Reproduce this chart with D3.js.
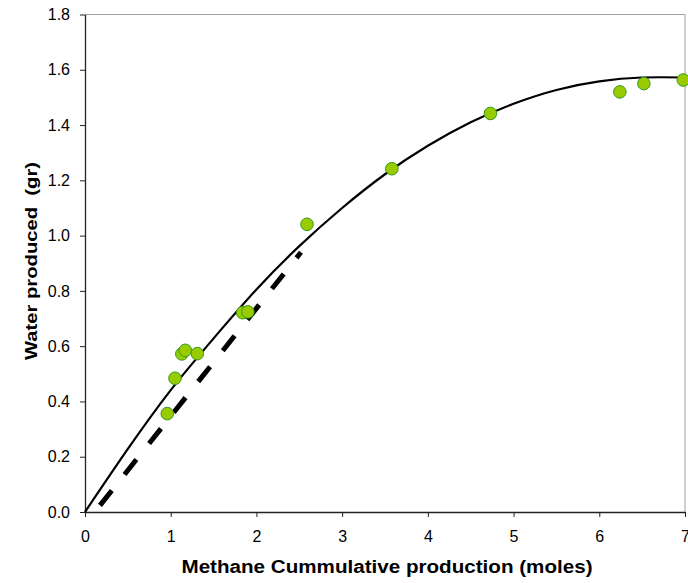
<!DOCTYPE html>
<html>
<head>
<meta charset="utf-8">
<script src="https://cdn.jsdelivr.net/npm/d3@7.9.0/dist/d3.min.js"></script>
<style>
  body { margin: 0; background: #fff; }
  svg { display: block; font-family: "Liberation Sans", Arial, sans-serif; }
  .tick text { font-size: 16px; fill: #000; }
</style>
</head>
<body>
<svg id="chart" width="688" height="583"></svg>
<script>
// measured points (methane moles, water gr)
const methane = [0.96, 1.05, 1.13, 1.17, 1.31, 1.84, 1.90, 2.59, 3.58, 4.73, 6.24, 6.52, 6.98];
const water   = [0.356, 0.484, 0.572, 0.585, 0.573, 0.721, 0.724, 1.041, 1.242, 1.442, 1.52, 1.55, 1.563];

// fitted curve
const fitX = [0, 0.5, 1.0, 1.5, 2.0, 2.5, 3.0, 3.5, 4.0, 4.5, 5.0, 5.5, 6.0, 6.5, 7.0];
const fitY = [0, 0.228, 0.441, 0.628, 0.805, 0.962, 1.10, 1.222, 1.325, 1.41, 1.477, 1.527, 1.558, 1.572, 1.572];

// dashed straight line
const dashX = [0.175, 2.52];
const dashY = [0.024, 0.94];

const xTicks = [0, 1, 2, 3, 4, 5, 6, 7];
const yTicks = [0, 0.2, 0.4, 0.6, 0.8, 1.0, 1.2, 1.4, 1.6, 1.8];

const svg = d3.select('#chart');

const x = d3.scaleLinear().domain([0, 7]).range([85, 685]);
const y = d3.scaleLinear().domain([0, 1.8]).range([512, 14.5]);

// top / right frame
svg.append('path')
  .attr('d', `M${x(0)},${y(1.8)}H${x(7)}V${y(0)}`)
  .attr('fill', 'none')
  .attr('stroke', '#a0a0a0')
  .attr('stroke-width', 1);

// axes
const xAxis = svg.append('g')
  .attr('transform', `translate(0,${y(0)})`)
  .call(d3.axisBottom(x).tickValues(xTicks).tickFormat(d3.format('d')).tickSize(5).tickSizeOuter(0).tickPadding(14));

const yAxis = svg.append('g')
  .attr('transform', `translate(${x(0)},0)`)
  .call(d3.axisLeft(y).tickValues(yTicks).tickFormat(d3.format('.1f')).tickSize(5).tickSizeOuter(0).tickPadding(10));

[xAxis, yAxis].forEach((g) => {
  g.attr('font-family', null).attr('font-size', null);
  g.select('.domain').attr('stroke', '#222').attr('stroke-width', 1.3);
  g.selectAll('.tick line').attr('stroke', '#222');
});

// fit curve
const fitData = fitX.map((v, i) => [v, fitY[i]]);
const line = d3.line().x((d) => x(d[0])).y((d) => y(d[1])).curve(d3.curveNatural);

svg.append('path')
  .datum(fitData)
  .attr('d', line)
  .attr('fill', 'none')
  .attr('stroke', '#000')
  .attr('stroke-width', 2.2);

// dashed line
const dashData = dashX.map((v, i) => [v, dashY[i]]);
svg.append('path')
  .datum(dashData)
  .attr('d', d3.line().x((d) => x(d[0])).y((d) => y(d[1])))
  .attr('fill', 'none')
  .attr('stroke', '#000')
  .attr('stroke-width', 5)
  .attr('stroke-dasharray', '19,20.5');

// points
const pts = methane.map((v, i) => ({ m: v, w: water[i] }));
svg.append('g')
  .selectAll('circle')
  .data(pts)
  .join('circle')
  .attr('cx', (d) => x(d.m))
  .attr('cy', (d) => y(d.w))
  .attr('r', 6.3)
  .attr('fill', '#99cc00')
  .attr('stroke', '#339922')
  .attr('stroke-width', 1);

// axis titles
svg.append('text')
  .attr('x', 387)
  .attr('y', 573)
  .attr('text-anchor', 'middle')
  .attr('font-size', 17.5)
  .attr('font-weight', 'bold')
  .attr('textLength', 411)
  .attr('lengthAdjust', 'spacingAndGlyphs')
  .text('Methane Cummulative production (moles)');

svg.append('text')
  .attr('transform', 'translate(36.5,261) rotate(-90)')
  .attr('text-anchor', 'middle')
  .attr('font-size', 16.5)
  .attr('font-weight', 'bold')
  .attr('textLength', 198)
  .attr('lengthAdjust', 'spacingAndGlyphs')
  .style('white-space', 'pre')
  .text('Water produced  (gr)');
</script>
</body>
</html>
